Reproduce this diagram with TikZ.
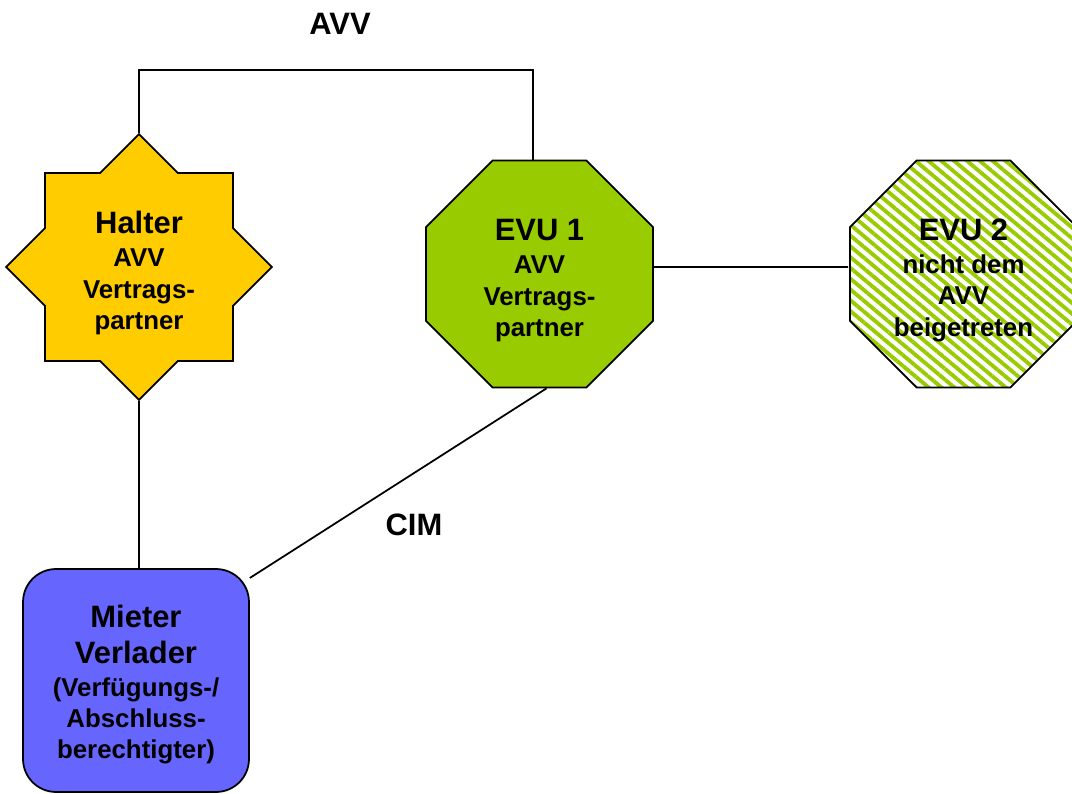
\documentclass[tikz,border=0pt]{standalone}
\usepackage{fontspec}
\setmainfont{Liberation Sans}
\usetikzlibrary{shapes.geometric,patterns.meta,calc}
\definecolor{halteryellow}{HTML}{FFCC00}
\definecolor{evugreen}{HTML}{99CC00}
\definecolor{mieterblue}{HTML}{6666FF}
\newcommand{\bigsz}{\fontsize{17.6}{21}\selectfont}
\newcommand{\smallsz}{\fontsize{14.7}{17.6}\selectfont}
\begin{document}
\begin{tikzpicture}[x=0.02cm,y=-0.02cm,
  shapebox/.style={draw=black, line width=1pt, inner sep=0pt, align=center, font=\bfseries\smallsz},
  octa/.style={shapebox, regular polygon, regular polygon sides=8, minimum size=4.914cm},
  conn/.style={draw=black, line width=1pt},
  lbl/.style={font=\bfseries\bigsz, inner sep=0pt, anchor=base}]
\useasboundingbox (0,0) rectangle (1072,794);
\clip (0,0) rectangle (1072,794);
\node[shapebox, star, star points=8, star point ratio=1.3066, minimum size=5.32cm, fill=halteryellow] (halter) at (139,267)
  {{\bigsz\rule{0pt}{19.5pt}Halter}\\[1.5pt]AVV\\[0.5pt]Vertrags-\\partner};
\node[octa, fill=evugreen] (evu1) at (539.5,274)
  {{\bigsz\rule{0pt}{19.5pt}EVU 1}\\[1.5pt]AVV\\[0.5pt]Vertrags-\\partner};
\node[octa, pattern={Lines[angle=-40,distance=4.7pt,line width=2.2pt]}, pattern color=evugreen] (evu2) at (963.5,274)
  {{\bigsz\rule{0pt}{19.5pt}EVU 2}\\[1.5pt]nicht dem\\AVV\\[0.5pt]beigetreten};
\node[shapebox, rectangle, rounded corners=0.66cm, minimum width=4.52cm, minimum height=4.46cm, fill=mieterblue] (mieter) at (136,680.5)
  {{\bigsz\rule{0pt}{17.5pt}Mieter}\\[3pt]{\bigsz Verlader}\\[1pt](Verfügungs-/\\Abschluss-\\berechtigter)};
\node[lbl] (avv) at (340,35) {AVV};
\node[lbl] (cim) at (414,535) {CIM};
\coordinate (avvcorner) at (533,70);
\draw[conn] (halter.north) |- (avvcorner) -- (avvcorner |- evu1.north);
\draw[conn] ([yshift=0.14cm]evu1.east) -- ([yshift=0.14cm]evu2.west);
\draw[conn] (halter.south) -- (halter.south |- mieter.north);
\draw[conn] ([xshift=0.14cm]evu1.south) -- (mieter.42);
\end{tikzpicture}
\end{document}
